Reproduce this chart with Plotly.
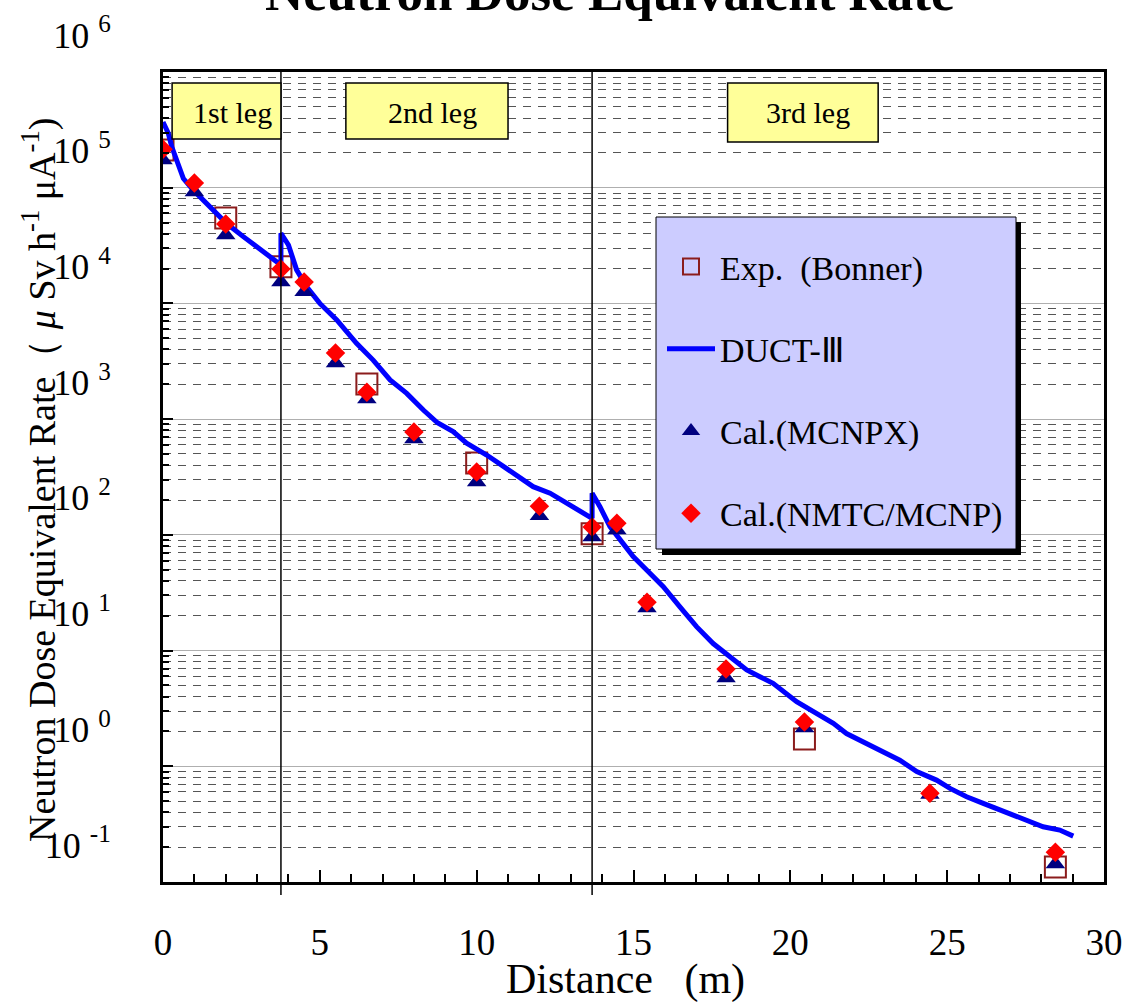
import plotly.graph_objects as go

# ---------------- data ----------------
distance_pts = [0.0, 1.0, 2.0, 3.76, 4.5, 5.5, 6.5, 8.0, 10.0, 12.0, 13.68, 14.47,
                15.43, 17.95, 20.45, 24.45, 28.45]
mcnpx_vals = [1.74e5, 9.2e4, 3.9e4, 1.53e4, 1.26e4, 3.06e3, 1.49e3, 673, 286, 146,
              96, 110, 23.3, 5.78, 2.14, 0.57, 0.143]
nmtc_vals = [2.15e5, 1.1e5, 4.85e4, 1.98e4, 1.53e4, 3.72e3, 1.71e3, 774, 349, 177,
             117, 126, 26.2, 6.92, 2.41, 0.586, 0.181]
exp_x = [0.0, 2.0, 3.76, 6.5, 10.0, 13.68, 20.45, 28.45]
exp_vals = [2.12e5, 5.47e4, 2.07e4, 2.01e3, 418, 102, 1.72, 0.135]

duct_x = [0.0, 0.17, 0.28, 0.44, 0.65, 0.97, 1.39, 2.03, 2.56, 2.99, 3.52, 3.76,
          3.76, 4.0, 4.26, 4.58, 5.0, 5.54, 6.17, 6.70, 7.24, 7.77, 8.30, 8.75,
          9.25, 9.68, 10.32, 10.96, 11.38, 11.80, 12.34, 12.87, 13.29, 13.68,
          13.68, 13.93, 14.25, 14.57, 14.99, 15.42, 15.95, 16.48, 17.01, 17.54,
          18.07, 18.61, 19.03, 19.45, 20.20, 20.84, 21.37, 21.79, 22.43, 22.96,
          23.49, 24.03, 24.66, 25.09, 25.62, 26.15, 26.68, 27.21, 27.53, 28.06,
          28.59, 29.02]
duct_vals = [3.7e5, 2.95e5, 2.26e5, 1.73e5, 1.2e5, 9.5e4, 7.3e4, 4.9e4, 3.78e4,
             3.09e4, 2.37e4, 2.15e4, 4.04e4, 3.2e4, 1.95e4, 1.39e4, 1.0e4, 7.2e3,
             4.52e3, 3.24e3, 2.18e3, 1.67e3, 1.2e3, 930, 780, 620, 490, 376, 308,
             261, 229, 187, 158, 139, 229, 175, 118, 90, 65, 49.7, 35.6, 23.9,
             16.1, 11.5, 8.85, 6.8, 5.94, 5.21, 3.61, 2.86, 2.35, 1.92, 1.58,
             1.34, 1.13, 0.90, 0.76, 0.644, 0.546, 0.478, 0.418, 0.366, 0.343,
             0.30, 0.281, 0.249]

leg_bounds = [3.76, 13.68]
leg_labels = ["1st leg", "2nd leg", "3rd leg"]

x_tick_vals = [0, 5, 10, 15, 20, 25, 30]
y_tick_vals = [0.1, 1, 10, 100, 1e3, 1e4, 1e5, 1e6]
y_tick_text = ["10\u00a0<sup>-1</sup>", "10\u00a0<sup>0</sup>", "10\u00a0<sup>1</sup>",
               "10\u00a0<sup>2</sup>", "10\u00a0<sup>3</sup>", "10\u00a0<sup>4</sup>",
               "10\u00a0<sup>5</sup>", "10\u00a0<sup>6</sup>"]

FONT = "Liberation Serif, Times New Roman, serif"

fig = go.Figure()

fig.add_trace(go.Scatter(
    x=exp_x, y=exp_vals, mode="markers", name="Exp.\u00a0 (Bonner)",
    legendgroup="a",
    marker=dict(symbol="square-open", size=21, color="#8B1C1C",
                line=dict(width=2, color="#8B1C1C")),
))
fig.add_trace(go.Scatter(
    x=duct_x, y=duct_vals, mode="lines", name="DUCT-\u2162",
    legendgroup="b",
    line=dict(color="#0000FF", width=5),
))
fig.add_trace(go.Scatter(
    x=distance_pts, y=mcnpx_vals, mode="markers", name="Cal.(MCNPX)",
    legendgroup="c",
    marker=dict(symbol="triangle-up", size=17, color="#000080"),
))
fig.add_trace(go.Scatter(
    x=distance_pts, y=nmtc_vals, mode="markers", name="Cal.(NMTC/MCNP)",
    legendgroup="d",
    marker=dict(symbol="diamond", size=15, color="#FF0000"),
))

# plot geometry (px)
W, H = 1146, 1005
L, R, T, B = 163, 42, 72, 123
pw, ph = W - L - R, H - T - B


def px_x(p):
    return (p - L) / pw


def px_y(p):
    return (H - B - p) / ph


shapes = []
# leg boundaries
for xb in leg_bounds:
    shapes.append(dict(type="line", xref="x", yref="paper", x0=xb, x1=xb,
                       y0=px_y(895), y1=1, line=dict(color="black", width=1.5),
                       layer="above"))
# leg label boxes
leg_boxes = [(0.29, 3.76, 83, 139), (5.83, 11.0, 83, 139), (18.0, 22.8, 83, 142)]
leg_text_x = [2.2, 8.58, 20.56]
annotations = []
for (x0, x1, ya, yb), lab, tx in zip(leg_boxes, leg_labels, leg_text_x):
    shapes.append(dict(type="rect", xref="x", yref="paper", x0=x0, x1=x1,
                       y0=px_y(yb), y1=px_y(ya), fillcolor="#FFFF99",
                       line=dict(color="black", width=1.5), layer="above"))
    annotations.append(dict(text=lab, x=tx, xref="x", y=px_y(113), yref="paper",
                            showarrow=False, xanchor="center", yanchor="middle",
                            font=dict(family=FONT, size=30, color="black")))

# legend box + shadow
shapes.append(dict(type="rect", xref="paper", yref="paper",
                   x0=px_x(662), x1=px_x(1021), y0=px_y(555), y1=px_y(222),
                   fillcolor="black", line=dict(width=0), layer="above"))
shapes.append(dict(type="rect", xref="paper", yref="paper",
                   x0=px_x(656), x1=px_x(1016), y0=px_y(549), y1=px_y(217),
                   fillcolor="#CCCCFF", line=dict(color="black", width=1),
                   layer="above"))

# titles
annotations.append(dict(text="<b>Neutron Dose Equivalent Rate</b>", xref="paper",
                        x=px_x(610), yref="paper", y=px_y(-8), showarrow=False,
                        xanchor="center", yanchor="middle",
                        font=dict(family=FONT, size=53, color="black")))
annotations.append(dict(text="Neutron Dose Equivalent Rate\uff08 <i>\u03bc</i> Sv h<sup>-1</sup> \u03bcA<sup>-1</sup>)",
                        xref="paper", x=px_x(39), yref="paper", y=px_y(480),
                        showarrow=False, textangle=-90, xanchor="center",
                        yanchor="middle",
                        font=dict(family=FONT, size=38, color="black")))
annotations.append(dict(text="Distance\u00a0\u00a0\u00a0(m)", xref="paper",
                        x=px_x(625), yref="paper", y=px_y(980), showarrow=False,
                        xanchor="center", yanchor="middle",
                        font=dict(family=FONT, size=42, color="black")))

fig.update_layout(
    width=W, height=H,
    margin=dict(l=L, r=R, t=T, b=B, autoexpand=False),
    paper_bgcolor="white", plot_bgcolor="white",
    font=dict(family=FONT, color="black"),
    showlegend=True,
    legend=dict(x=px_x(662), y=px_y(238), xanchor="left", yanchor="top",
                bgcolor="rgba(0,0,0,0)", borderwidth=0,
                font=dict(family=FONT, size=34, color="black"),
                tracegroupgap=35, traceorder="grouped", itemwidth=48),
    shapes=shapes,
    annotations=annotations,
)

fig.update_xaxes(
    range=[0, 30], tickvals=x_tick_vals, ticks="inside", ticklen=12, tickwidth=1.5,
    tickcolor="black", showline=True, linecolor="black", linewidth=3, mirror=True,
    showgrid=False, zeroline=False, ticklabelstandoff=26,
    tickfont=dict(family=FONT, size=37, color="black"),
    minor=dict(dtick=1, ticks="inside", ticklen=8, tickwidth=1.5, tickcolor="black",
               showgrid=False),
)
fig.update_yaxes(
    type="log", range=[-1, 6], tickvals=y_tick_vals, ticktext=y_tick_text,
    ticks="inside", ticklen=10, tickwidth=1.5, tickcolor="black",
    showline=True, linecolor="black", linewidth=3, mirror=True,
    showgrid=True, gridcolor="#AFAFAF", gridwidth=1, zeroline=False,
    ticklabelstandoff=42, ticklabelshift=-37,
    tickfont=dict(family=FONT, size=36, color="black"),
    minor=dict(dtick="D1", ticks="inside", ticklen=6, tickwidth=1.5,
               tickcolor="black", showgrid=True, gridcolor="#555555",
               gridwidth=1, griddash="8px,7px"),
)

fig.write_html("out.html")
